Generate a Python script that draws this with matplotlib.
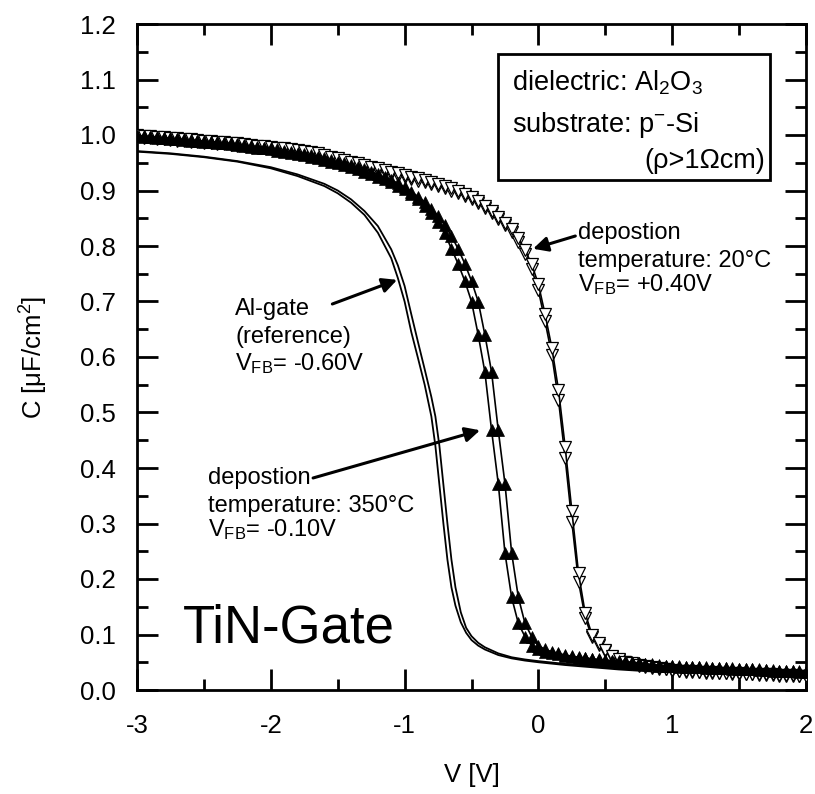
import matplotlib
matplotlib.use("Agg")
import matplotlib.pyplot as plt
from matplotlib.patches import Rectangle
from matplotlib.ticker import MultipleLocator, FormatStrFormatter

plt.rcParams['font.family'] = ['Liberation Sans', 'DejaVu Sans']
plt.rcParams['mathtext.fontset'] = 'custom'
plt.rcParams['mathtext.rm'] = 'Liberation Sans'
plt.rcParams['mathtext.it'] = 'Liberation Sans:italic'
plt.rcParams['mathtext.bf'] = 'Liberation Sans:bold'
plt.rcParams['axes.unicode_minus'] = False

# Gate bias sweep (V)
bias_v = [
    -3.00, -2.95, -2.90, -2.85, -2.80, -2.75, -2.70, -2.65, -2.60, -2.55,
    -2.50, -2.45, -2.40, -2.35, -2.30, -2.25, -2.20, -2.15, -2.10, -2.05,
    -2.00, -1.95, -1.90, -1.85, -1.80, -1.75, -1.70, -1.65, -1.60, -1.55,
    -1.50, -1.45, -1.40, -1.35, -1.30, -1.25, -1.20, -1.15, -1.10, -1.05,
    -1.00, -0.95, -0.90, -0.85, -0.80, -0.75, -0.70, -0.65, -0.60, -0.55,
    -0.50, -0.45, -0.40, -0.35, -0.30, -0.25, -0.20, -0.15, -0.10, -0.05,
    0.00, 0.05, 0.10, 0.15, 0.20, 0.25, 0.30, 0.35, 0.40, 0.45,
    0.50, 0.55, 0.60, 0.65, 0.70, 0.75, 0.80, 0.85, 0.90, 0.95,
    1.00, 1.05, 1.10, 1.15, 1.20, 1.25, 1.30, 1.35, 1.40, 1.45,
    1.50, 1.55, 1.60, 1.65, 1.70, 1.75, 1.80, 1.85, 1.90, 1.95,
    2.00,
]

# TiN deposited at 350 C, forward and reverse sweep (uF/cm^2)
c350_fwd = [
    0.998, 0.997, 0.996, 0.995, 0.994, 0.993, 0.992, 0.991, 0.990, 0.989,
    0.988, 0.987, 0.986, 0.985, 0.983, 0.982, 0.980, 0.979, 0.977, 0.976,
    0.974, 0.972, 0.970, 0.968, 0.966, 0.964, 0.961, 0.958, 0.955, 0.952,
    0.949, 0.946, 0.942, 0.938, 0.934, 0.929, 0.924, 0.920, 0.915, 0.909,
    0.902, 0.893, 0.884, 0.872, 0.859, 0.843, 0.823, 0.795, 0.768, 0.737,
    0.700, 0.640, 0.573, 0.468, 0.372, 0.247, 0.167, 0.120, 0.096, 0.080,
    0.073, 0.069, 0.066, 0.064, 0.062, 0.060, 0.058, 0.057, 0.056, 0.054,
    0.053, 0.052, 0.051, 0.050, 0.049, 0.048, 0.046, 0.045, 0.044, 0.044,
    0.043, 0.042, 0.042, 0.041, 0.041, 0.040, 0.040, 0.039, 0.039, 0.038,
    0.038, 0.037, 0.037, 0.036, 0.036, 0.035, 0.035, 0.034, 0.034, 0.033,
    0.033,
]
c350_rev = [
    0.999, 0.998, 0.997, 0.996, 0.995, 0.994, 0.993, 0.992, 0.991, 0.990,
    0.989, 0.988, 0.987, 0.986, 0.985, 0.983, 0.982, 0.980, 0.979, 0.977,
    0.976, 0.974, 0.972, 0.970, 0.968, 0.966, 0.964, 0.961, 0.958, 0.955,
    0.952, 0.949, 0.946, 0.942, 0.938, 0.934, 0.929, 0.924, 0.919, 0.913,
    0.906, 0.898, 0.889, 0.879, 0.867, 0.854, 0.838, 0.818, 0.795, 0.768,
    0.737, 0.700, 0.640, 0.573, 0.468, 0.372, 0.247, 0.167, 0.120, 0.096,
    0.080, 0.073, 0.069, 0.066, 0.063, 0.061, 0.059, 0.058, 0.056, 0.055,
    0.054, 0.053, 0.052, 0.051, 0.050, 0.049, 0.047, 0.046, 0.045, 0.044,
    0.044, 0.043, 0.042, 0.042, 0.041, 0.041, 0.040, 0.040, 0.039, 0.039,
    0.038, 0.038, 0.037, 0.037, 0.036, 0.036, 0.035, 0.035, 0.034, 0.034,
    0.033,
]

# TiN deposited at 20 C, forward and reverse sweep (uF/cm^2)
c20_fwd = [
    0.996, 0.995, 0.994, 0.993, 0.992, 0.991, 0.990, 0.989, 0.988, 0.987,
    0.986, 0.985, 0.984, 0.983, 0.982, 0.981, 0.980, 0.978, 0.977, 0.976,
    0.975, 0.973, 0.972, 0.970, 0.969, 0.967, 0.966, 0.964, 0.960, 0.957,
    0.954, 0.951, 0.948, 0.945, 0.942, 0.939, 0.936, 0.933, 0.930, 0.927,
    0.924, 0.921, 0.918, 0.915, 0.912, 0.908, 0.904, 0.900, 0.895, 0.890,
    0.884, 0.877, 0.868, 0.859, 0.849, 0.838, 0.825, 0.808, 0.786, 0.758,
    0.720, 0.664, 0.604, 0.523, 0.418, 0.303, 0.195, 0.130, 0.096, 0.081,
    0.070, 0.060, 0.054, 0.050, 0.047, 0.044, 0.042, 0.040, 0.038, 0.037,
    0.035, 0.034, 0.033, 0.033, 0.032, 0.031, 0.031, 0.030, 0.030, 0.029,
    0.029, 0.028, 0.028, 0.027, 0.027, 0.027, 0.026, 0.026, 0.026, 0.025,
    0.025,
]
c20_rev = [
    1.000, 0.999, 0.998, 0.997, 0.996, 0.995, 0.994, 0.993, 0.992, 0.991,
    0.990, 0.989, 0.988, 0.987, 0.986, 0.985, 0.984, 0.982, 0.981, 0.980,
    0.979, 0.977, 0.976, 0.974, 0.973, 0.971, 0.970, 0.968, 0.964, 0.961,
    0.958, 0.955, 0.952, 0.949, 0.946, 0.943, 0.940, 0.937, 0.934, 0.931,
    0.928, 0.925, 0.922, 0.919, 0.916, 0.912, 0.908, 0.904, 0.899, 0.894,
    0.888, 0.881, 0.872, 0.863, 0.853, 0.842, 0.830, 0.814, 0.793, 0.767,
    0.731, 0.677, 0.617, 0.541, 0.438, 0.323, 0.210, 0.138, 0.100, 0.084,
    0.072, 0.062, 0.056, 0.051, 0.048, 0.045, 0.043, 0.041, 0.039, 0.038,
    0.036, 0.035, 0.034, 0.034, 0.033, 0.032, 0.032, 0.031, 0.031, 0.030,
    0.030, 0.029, 0.029, 0.028, 0.028, 0.028, 0.027, 0.027, 0.027, 0.026,
    0.026,
]

# Al-gate reference capacitor, both sweep directions
al_v = [-3.0, -2.75, -2.5, -2.25, -2.0, -1.8, -1.6, -1.5, -1.4, -1.3,
        -1.2, -1.1, -1.05, -1.0, -0.95, -0.9, -0.85, -0.8, -0.77, -0.74,
        -0.71, -0.68, -0.65, -0.62, -0.58, -0.54, -0.5, -0.45, -0.4, -0.3,
        -0.2, -0.1, 0.0, 0.2, 0.4, 0.6, 0.8, 1.0, 1.25, 1.5,
        1.75, 2.0]
al_fwd = [0.970, 0.966, 0.960, 0.952, 0.940, 0.926, 0.908, 0.895, 0.878, 0.856,
          0.824, 0.778, 0.742, 0.700, 0.645, 0.598, 0.550, 0.493, 0.440, 0.370,
          0.300, 0.235, 0.185, 0.152, 0.122, 0.103, 0.090, 0.080, 0.073, 0.063,
          0.057, 0.053, 0.050, 0.045, 0.041, 0.037, 0.034, 0.032, 0.030, 0.028,
          0.027, 0.026]
al_rev = [0.971, 0.967, 0.961, 0.953, 0.942, 0.929, 0.912, 0.900, 0.884, 0.863,
          0.836, 0.794, 0.765, 0.728, 0.677, 0.627, 0.578, 0.528, 0.493, 0.440,
          0.370, 0.300, 0.235, 0.185, 0.140, 0.112, 0.097, 0.085, 0.077, 0.066,
          0.059, 0.055, 0.052, 0.047, 0.043, 0.039, 0.036, 0.034, 0.031, 0.029,
          0.028, 0.027]

FS_TICK = 18.5
FS_NOTE = 17
FS_BOX = 19.5

fig = plt.figure(figsize=(8.15, 7.94), dpi=100)
ax = fig.add_axes([137 / 815, 1 - 690 / 794, (806 - 137) / 815, (690 - 24) / 794])

# Al reference: plain lines
ax.plot(al_v, al_fwd, color='black', lw=1.3, zorder=2)
ax.plot(al_v, al_rev, color='black', lw=1.3, zorder=2)

# 20 C: open down-triangles
for c in (c20_fwd, c20_rev):
    ax.plot(bias_v, c, '-v', color='black', lw=1.2, ms=8, mfc='white',
            mec='black', mew=0.9, zorder=3)

# 350 C: filled up-triangles
for c in (c350_fwd, c350_rev):
    ax.plot(bias_v, c, '-^', color='black', lw=1.2, ms=8, mfc='black',
            mec='black', mew=0.5, zorder=4)

ax.set_xlim(-3, 2)
ax.set_ylim(0, 1.2)
ax.xaxis.set_major_locator(MultipleLocator(1))
ax.xaxis.set_minor_locator(MultipleLocator(0.5))
ax.yaxis.set_major_locator(MultipleLocator(0.1))
ax.yaxis.set_minor_locator(MultipleLocator(0.05))
ax.xaxis.set_major_formatter(FormatStrFormatter('%d'))
ax.yaxis.set_major_formatter(FormatStrFormatter('%.1f'))
ax.tick_params(which='both', direction='in', top=True, right=True, width=2,
               labelsize=FS_TICK)
ax.tick_params(axis='x', which='both', pad=17)
ax.tick_params(axis='y', which='both', pad=15)
ax.tick_params(which='major', length=15)
ax.tick_params(which='minor', length=8)
for s in ax.spines.values():
    s.set_linewidth(2)

ax.set_xlabel('V [V]', fontsize=FS_TICK, labelpad=18)
ax.set_ylabel('C [μF/cm$^2$]', fontsize=FS_TICK, labelpad=22)

# Sample description box
ax.add_patch(Rectangle((-0.301, 0.919), 2.032, 0.227, fill=False, lw=2,
                       edgecolor='black', zorder=5))
ax.text(-0.196, 1.081, 'dielectric: Al$_2$O$_3$', fontsize=FS_BOX, va='baseline')
ax.text(-0.196, 1.005, 'substrate: p$^{-}$-Si', fontsize=FS_BOX, va='baseline')
ax.text(1.693, 0.9405, '(ρ>1Ωcm)', fontsize=FS_BOX, va='baseline', ha='right')

# Curve annotations
arrow = dict(arrowstyle='-|>', color='black', lw=2.2, mutation_scale=22,
             shrinkA=0, shrinkB=0)

ax.text(0.297, 0.8126, 'depostion', fontsize=FS_NOTE, va='baseline')
ax.text(0.297, 0.7616, 'temperature: 20°C', fontsize=FS_NOTE, va='baseline')
ax.text(0.297, 0.7195, 'V$_{\\mathrm{FB}}$= +0.40V', fontsize=FS_NOTE, va='baseline')
ax.annotate('', xy=(-0.04, 0.795), xytext=(0.276, 0.818), arrowprops=arrow)

ax.text(-2.265, 0.676, 'Al-gate', fontsize=FS_NOTE, va='baseline')
ax.text(-2.265, 0.6246, '(reference)', fontsize=FS_NOTE, va='baseline')
ax.text(-2.265, 0.5766, 'V$_{\\mathrm{FB}}$= -0.60V', fontsize=FS_NOTE, va='baseline')
ax.annotate('', xy=(-1.056, 0.739), xytext=(-1.54, 0.6955), arrowprops=arrow)

ax.text(-2.47, 0.371, 'depostion', fontsize=FS_NOTE, va='baseline')
ax.text(-2.47, 0.321, 'temperature: 350°C', fontsize=FS_NOTE, va='baseline')
ax.text(-2.47, 0.277, 'V$_{\\mathrm{FB}}$= -0.10V', fontsize=FS_NOTE, va='baseline')
ax.annotate('', xy=(-0.436, 0.468), xytext=(-1.684, 0.382), arrowprops=arrow)

ax.text(-2.66, 0.0855, 'TiN-Gate', fontsize=38, va='baseline')

fig.savefig('out.png', dpi=100)
